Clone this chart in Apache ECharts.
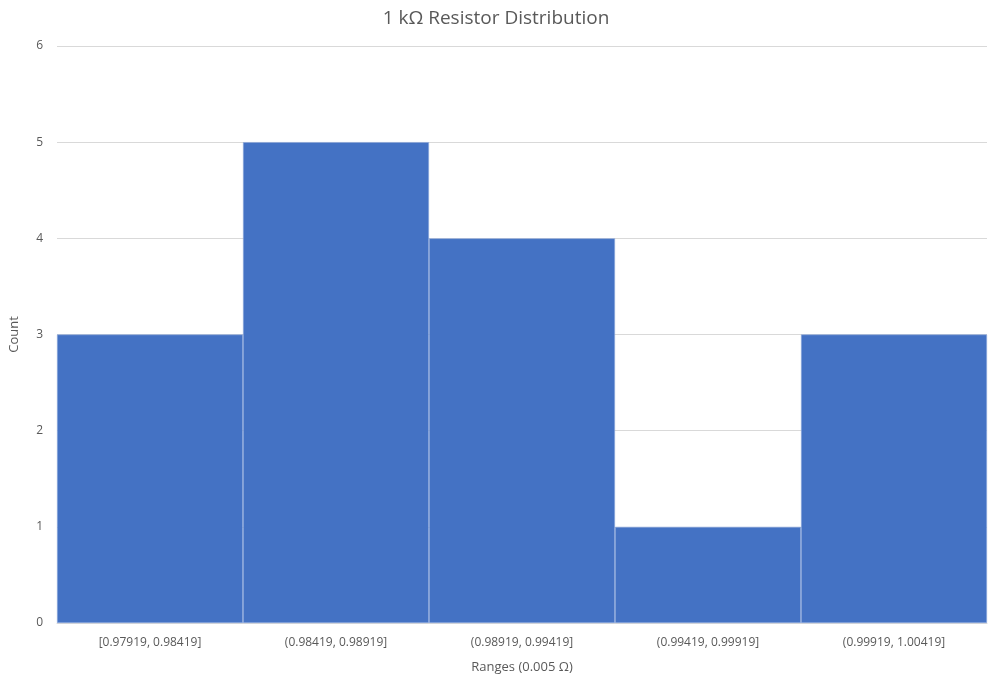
<!DOCTYPE html>
<html><head><meta charset="utf-8">
<script src="https://cdn.jsdelivr.net/npm/echarts@6/dist/echarts.min.js"></script>
<style>html,body{margin:0;padding:0;background:#fff}#c{width:992px;height:688px}</style>
</head><body><div id="c"></div>
<script>
const categories = ["[0.97919, 0.98419]","(0.98419, 0.98919]","(0.98919, 0.99419]","(0.99419, 0.99919]","(0.99919, 1.00419]"];
const counts = [3,5,4,1,3];
const yTicks = {min:0,max:6,interval:1};
const chart = echarts.init(document.getElementById('c'));
const font = "'Open Sans', 'Noto Sans', sans-serif";
chart.setOption({
  animation:false,
  textStyle:{fontFamily:font},
  title:{text:"1 kΩ Resistor Distribution",left:'center',top:4,textStyle:{fontFamily:font,fontSize:19,fontWeight:'normal',color:'#595959'}},
  grid:{left:52,right:5,top:46,bottom:65},
  xAxis:{type:'category',data:categories,name:'Ranges (0.005 Ω)',nameLocation:'middle',nameGap:38,
    nameTextStyle:{color:'#595959',fontSize:13},
    axisLine:{lineStyle:{color:'#d9d9d9'}},axisTick:{show:false},
    axisLabel:{color:'#595959',fontSize:12,margin:14}},
  yAxis:{type:'value',min:yTicks.min,max:yTicks.max,interval:yTicks.interval,name:'Count',nameLocation:'middle',nameGap:36,
    nameTextStyle:{color:'#595959',fontSize:13},
    axisLine:{show:false},axisTick:{show:false},
    axisLabel:{color:'#595959',fontSize:12,margin:14},
    splitLine:{lineStyle:{color:'#d9d9d9'}}},
  series:[{type:'bar',data:counts,barCategoryGap:'0%',
    itemStyle:{color:'#4472C4',borderColor:'#8eaadb',borderWidth:0.6}}]
});
</script></body></html>
